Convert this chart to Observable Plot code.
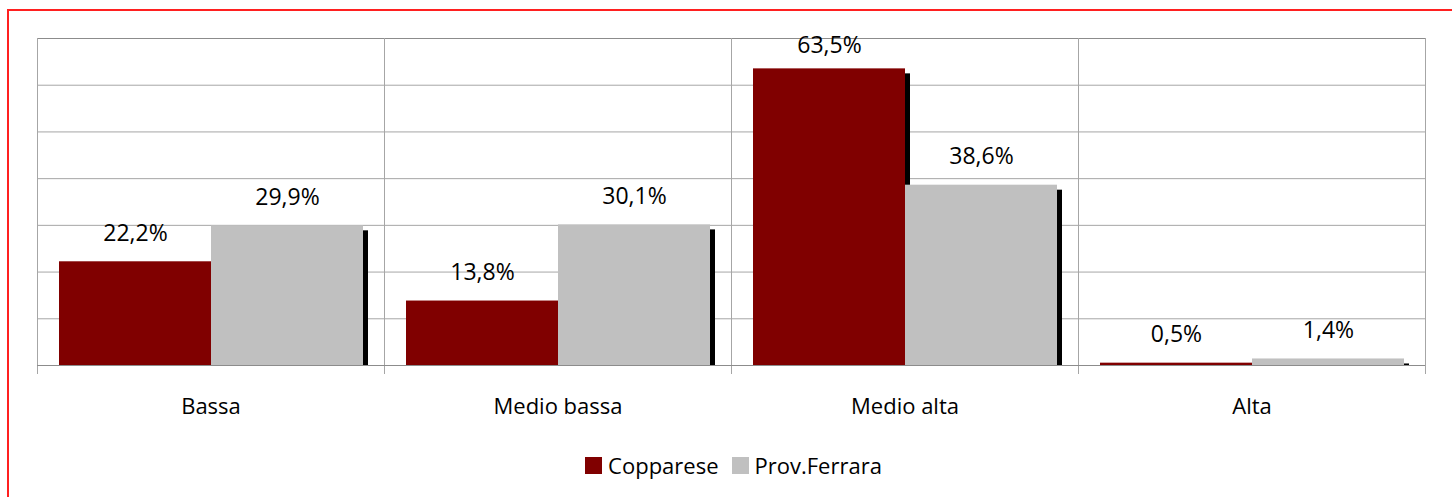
<!DOCTYPE html>
<html>
<head>
<meta charset="utf-8">
<script src="https://cdn.jsdelivr.net/npm/d3@7"></script>
<script src="https://cdn.jsdelivr.net/npm/@observablehq/plot@0.6"></script>
<style>
  html, body { margin: 0; padding: 0; background: #fff; overflow: hidden; }
  body { width: 1452px; height: 497px; position: relative; font-family: "Open Sans", sans-serif; }
  #border { position: absolute; left: 7px; top: 9px; width: 2000px; height: 2000px; border: 2px solid #ff2020; box-sizing: border-box; pointer-events: none; }
  #chart { position: absolute; left: 0; top: 0; }
  #legend { position: absolute; left: 36px; width: 1395px; top: 450px; height: 30px; display: flex; justify-content: center; align-items: center; font-size: 22px; color: #000; }
  .item { display: flex; align-items: center; }
  .sw { width: 17px; height: 17px; margin-right: 6px; }
  .item + .item { margin-left: 13px; }
</style>
</head>
<body>
<div id="border"></div>
<div id="chart"></div>
<div id="legend"></div>
<script>
const categories = ["Bassa", "Medio bassa", "Medio alta", "Alta"];
const seriesNames = ["Copparese", "Prov.Ferrara"];
const copparese = [22.2, 13.8, 63.5, 0.5];
const provFerrara = [29.9, 30.1, 38.6, 1.4];
const yGrid = [10, 20, 30, 40, 50, 60];
const yMax = 70;
const seriesColors = ["#800000", "#c0c0c0"];

const seriesValues = [copparese, provFerrara];
const rows = [];
categories.forEach((c, i) => {
  seriesNames.forEach((s, j) => rows.push({cat: c, series: s, value: seriesValues[j][i]}));
});
const fmt = v => v.toFixed(1).replace(".", ",") + "%";

const plot = Plot.plot({
  width: 1452,
  height: 430,
  marginTop: 38,
  marginBottom: 65,
  marginLeft: 36,
  marginRight: 27,
  style: {fontFamily: "Open Sans, sans-serif", fontSize: "22px", color: "#000", background: "transparent"},
  fx: {domain: categories, padding: 0, label: null, axis: "bottom", tickSize: 0, tickPadding: 33},
  x: {domain: seriesNames, paddingInner: 0, paddingOuter: 0.1414, axis: null},
  y: {domain: [0, yMax], axis: null},
  color: {domain: seriesNames, range: seriesColors},
  marks: [
    Plot.ruleY(yGrid, {stroke: "#a6a6a6", strokeWidth: 1}),
    Plot.frame({stroke: "#8c8c8c", strokeWidth: 1}),
    Plot.frame({anchor: "left", stroke: "#a6a6a6", insetBottom: -8}),
    Plot.frame({anchor: "right", stroke: "#a6a6a6", insetBottom: -8}),
    Plot.barY(rows, {fx: "cat", x: "series", y: "value", fill: "#000", dx: 5, insetTop: 5}),
    Plot.barY(rows, {fx: "cat", x: "series", y: "value", fill: "series"}),
    Plot.ruleY([0], {stroke: "#8c8c8c", strokeWidth: 1}),
    Plot.text(rows, {fx: "cat", x: "series", y: d => Math.min(d.value, 62.3), text: d => fmt(d.value), dy: -21, lineAnchor: "bottom", fontSize: 23, fill: "#000"})
  ]
});
document.getElementById("chart").appendChild(plot);

const legend = document.getElementById("legend");
seriesNames.forEach((s, j) => {
  const it = document.createElement("div");
  it.className = "item";
  const sw = document.createElement("div");
  sw.className = "sw";
  sw.style.background = seriesColors[j];
  const t = document.createElement("span");
  t.textContent = s;
  it.appendChild(sw);
  it.appendChild(t);
  legend.appendChild(it);
});
</script>
</body>
</html>
